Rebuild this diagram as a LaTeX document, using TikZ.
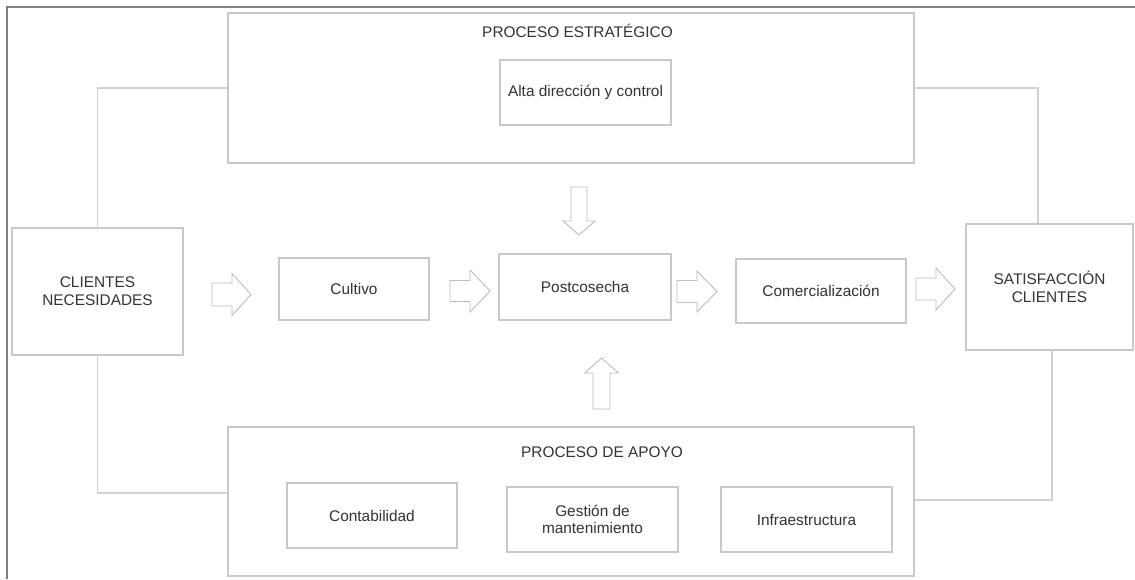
\documentclass[tikz,border=0pt]{standalone}
\usepackage{fontspec}
\setmainfont{Liberation Sans}
\definecolor{boxline}{HTML}{C9C9C9}
\definecolor{conline}{HTML}{D2D2D2}
\definecolor{arrline}{HTML}{BDBDBD}
\definecolor{txt}{HTML}{333333}
\definecolor{frameline}{HTML}{7F7F7F}
\newcommand\hblockarrow[6]{%
  \draw[blk] (#1,{#4-#5}) -- (#2,{#4-#5}) -- (#2,{#4-#6}) -- (#3,#4) -- (#2,{#4+#6}) -- (#2,{#4+#5}) -- (#1,{#4+#5}) -- cycle;}
\newcommand\vblockarrow[6]{%
  \draw[blk] ({#4-#5},#1) -- ({#4-#5},#2) -- ({#4-#6},#2) -- (#4,#3) -- ({#4+#6},#2) -- ({#4+#5},#2) -- ({#4+#5},#1) -- cycle;}
\begin{document}
\begin{tikzpicture}[x=1pt,y=-1pt,
  font=\fontsize{15.4}{17.7}\selectfont,
  box/.style={draw=boxline, line width=1.1pt, fill=white, text=txt, align=center, inner sep=0pt},
  title/.style={text=txt, inner sep=0pt},
  con/.style={draw=conline, line width=1.1pt},
  blk/.style={draw=arrline, line width=0.9pt, fill=white, line join=miter}]
\useasboundingbox (0,0) rectangle (1135,579);
\fill[white] (0,0) rectangle (1135,579);
% outer frame (left and top)
\draw[frameline, line width=2pt] (7,579) -- (7,7) -- (1135,7);

% containers
\node[box, minimum width=686pt, minimum height=150pt] (str) at (571,88) {};
\node[box, minimum width=686pt, minimum height=149pt] (sup) at (571,501.5) {};
\node[title] (strt) at (577.5,31) {PROCESO ESTRATÉGICO};
\node[title] (supt) at (602,452) {PROCESO DE APOYO};

% inner boxes
\node[box, minimum width=171pt, minimum height=65pt] (alta) at (585.5,92.5) {Alta dirección y control};
\node[box, minimum width=171pt, minimum height=127pt] (cli) at (97.5,291.5) {CLIENTES\\NECESIDADES};
\node[box, minimum width=150pt, minimum height=62pt] (cul) at (354,289) {Cultivo};
\node[box, minimum width=172pt, minimum height=66pt] (post) at (585,287) {Postcosecha};
\node[box, minimum width=170pt, minimum height=64pt] (com) at (821,291) {Comercialización};
\node[box, minimum width=167pt, minimum height=126pt] (sat) at (1049.5,287) {SATISFACCIÓN\\CLIENTES};
\node[box, minimum width=170pt, minimum height=65pt] (cont) at (372,515.5) {Contabilidad};
\node[box, minimum width=171pt, minimum height=65pt] (gest) at (592.5,519.5) {Gestión de\\mantenimiento};
\node[box, minimum width=171pt, minimum height=65pt] (infra) at (806.5,519.5) {Infraestructura};

% connectors
\draw[con] (cli.north) |- (str.west);
\draw[con] (str.east) -| ([xshift=-11.5pt]sat.north);
\draw[con] (cli.south) |- ([yshift=8.5pt]sup.west);
\draw[con] ([yshift=1.5pt]sup.east) -| ([xshift=2.5pt]sat.south);

% block arrows
\hblockarrow{212}{232}{251}{294.5}{11.5}{21}
\hblockarrow{450}{470}{490}{291}{10.5}{21}
\hblockarrow{677}{697}{717}{291.5}{11}{20.5}
\hblockarrow{916}{936}{955}{289}{11}{21}
\vblockarrow{187}{221}{235}{579}{8}{16}
\vblockarrow{409}{373}{358}{601.5}{8.5}{17}
\end{tikzpicture}
\end{document}
